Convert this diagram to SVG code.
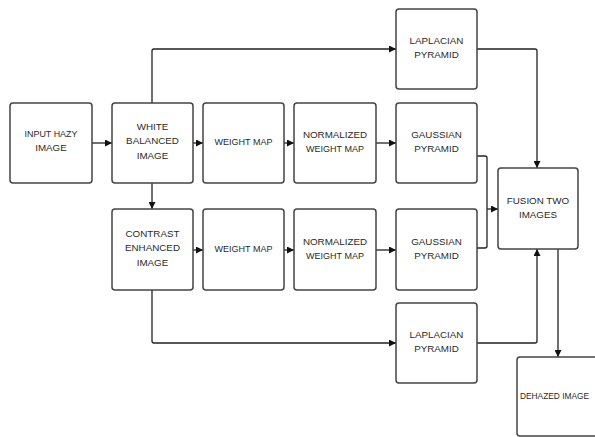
<svg xmlns="http://www.w3.org/2000/svg" width="595" height="437" viewBox="0 0 595 437">
<defs>
<marker id="ah" viewBox="0 0 10 10" refX="10" refY="5" markerWidth="9" markerHeight="7" markerUnits="userSpaceOnUse" orient="auto">
<path d="M0,0 L10,5 L0,10 z" fill="#111"/>
</marker>
<style>
.box{fill:#fff;stroke:#444;stroke-width:1.5}
.lbl{font-family:"Liberation Sans",Arial,sans-serif;font-size:9.8px;fill:#2a2a2a;text-anchor:middle}
.c{fill:none;stroke:#222;stroke-width:1.3;stroke-linejoin:round}
</style>
</defs>
<rect width="595" height="437" fill="#fff"/>
<g id="connectors">
<path class="c" d="M92,143 H112" marker-end="url(#ah)"/>
<path class="c" d="M193,143 H203" marker-end="url(#ah)"/>
<path class="c" d="M284,143 H294" marker-end="url(#ah)"/>
<path class="c" d="M376,143 H396" marker-end="url(#ah)"/>
<path class="c" d="M193,250 H203" marker-end="url(#ah)"/>
<path class="c" d="M284,250 H294" marker-end="url(#ah)"/>
<path class="c" d="M376,250 H396" marker-end="url(#ah)"/>
<path class="c" d="M152,183 V209" marker-end="url(#ah)"/>
<path class="c" d="M152,103 V51 Q152,49 154,49 H396" marker-end="url(#ah)"/>
<path class="c" d="M152,290 V341 Q152,343 154,343 H396" marker-end="url(#ah)"/>
<path class="c" d="M477,49 H535 Q537,49 537,51 V168" marker-end="url(#ah)"/>
<path class="c" d="M477,343 H535 Q537,343 537,341 V249" marker-end="url(#ah)"/>
<path class="c" d="M477,156 H485 Q487,156 487,158 V246 Q487,248 485,248 H477"/>
<path class="c" d="M487,209 H498" marker-end="url(#ah)"/>
<path class="c" d="M558,249 V357" marker-end="url(#ah)"/>
</g>
<g id="input">
<rect class="box" x="10" y="103" width="82" height="80" rx="3"/>
<text class="lbl" x="51" y="137" textLength="53" lengthAdjust="spacingAndGlyphs">INPUT HAZY</text>
<text class="lbl" x="51" y="151">IMAGE</text>
</g>
<g id="white">
<rect class="box" x="112" y="103" width="81" height="80" rx="3"/>
<text class="lbl" x="152.5" y="129.5">WHITE</text>
<text class="lbl" x="152.5" y="144">BALANCED</text>
<text class="lbl" x="152.5" y="158.5">IMAGE</text>
</g>
<g id="wm1">
<rect class="box" x="203" y="103" width="81" height="80" rx="3"/>
<text class="lbl" x="243.5" y="144.5" textLength="58" lengthAdjust="spacingAndGlyphs">WEIGHT MAP</text>
</g>
<g id="nwm1">
<rect class="box" x="294" y="103" width="82" height="80" rx="3"/>
<text class="lbl" x="335" y="137.5">NORMALIZED</text>
<text class="lbl" x="335" y="151.5" textLength="58" lengthAdjust="spacingAndGlyphs">WEIGHT MAP</text>
</g>
<g id="gp1">
<rect class="box" x="396" y="103" width="81" height="80" rx="3"/>
<text class="lbl" x="436.5" y="137.5">GAUSSIAN</text>
<text class="lbl" x="436.5" y="151.5">PYRAMID</text>
</g>
<g id="lp1">
<rect class="box" x="396" y="9" width="81" height="80" rx="3"/>
<text class="lbl" x="436.5" y="43.5">LAPLACIAN</text>
<text class="lbl" x="436.5" y="57.5">PYRAMID</text>
</g>
<g id="contrast">
<rect class="box" x="112" y="209" width="81" height="81" rx="3"/>
<text class="lbl" x="152.5" y="236.5">CONTRAST</text>
<text class="lbl" x="152.5" y="251">ENHANCED</text>
<text class="lbl" x="152.5" y="265.5">IMAGE</text>
</g>
<g id="wm2">
<rect class="box" x="203" y="209" width="81" height="81" rx="3"/>
<text class="lbl" x="243.5" y="251.5" textLength="58" lengthAdjust="spacingAndGlyphs">WEIGHT MAP</text>
</g>
<g id="nwm2">
<rect class="box" x="294" y="209" width="82" height="81" rx="3"/>
<text class="lbl" x="335" y="244.5">NORMALIZED</text>
<text class="lbl" x="335" y="258.5" textLength="58" lengthAdjust="spacingAndGlyphs">WEIGHT MAP</text>
</g>
<g id="gp2">
<rect class="box" x="396" y="209" width="81" height="81" rx="3"/>
<text class="lbl" x="436.5" y="244.5">GAUSSIAN</text>
<text class="lbl" x="436.5" y="258.5">PYRAMID</text>
</g>
<g id="lp2">
<rect class="box" x="396" y="303" width="81" height="80" rx="3"/>
<text class="lbl" x="436.5" y="337.5">LAPLACIAN</text>
<text class="lbl" x="436.5" y="351.5">PYRAMID</text>
</g>
<g id="fusion">
<rect class="box" x="498" y="168" width="80" height="81" rx="3"/>
<text class="lbl" x="538" y="203.5">FUSION TWO</text>
<text class="lbl" x="538" y="218">IMAGES</text>
</g>
<g id="dehazed">
<rect class="box" x="517" y="357" width="82" height="79" rx="3"/>
<text class="lbl" x="520" y="398.5" style="text-anchor:start" textLength="69" lengthAdjust="spacingAndGlyphs">DEHAZED IMAGE</text>
</g>
</svg>
